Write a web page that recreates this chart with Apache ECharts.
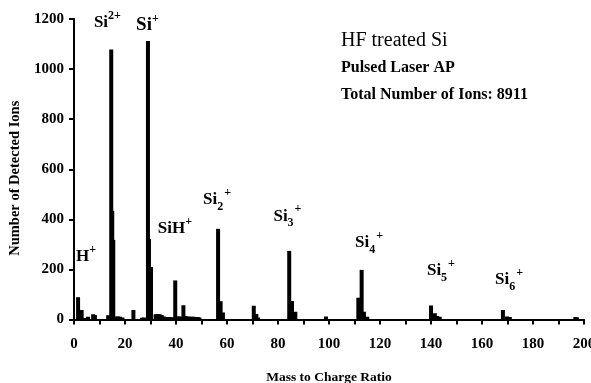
<!DOCTYPE html>
<html>
<head>
<meta charset="utf-8">
<script src="https://cdn.jsdelivr.net/npm/echarts@6/dist/echarts.min.js"></script>
<style>
  html, body { margin: 0; padding: 0; background: #fff; }
  #chart { width: 591px; height: 383px; }
</style>
</head>
<body>
<div id="chart"></div>
<script>
// histogram bins (mass position, number of ions)
const binMass = [
  1.6, 3.0, 4.3, 5.5, 7.5, 8.2,
  13.4, 14.6, 15.0, 15.4, 16.5, 17.3, 18.1, 19.0,
  23.3, 26.6, 27.4,
  29.0, 29.4, 30.2, 32.0, 32.8, 33.6, 34.4, 35.2, 36.0, 36.8, 37.6, 38.4,
  39.7, 40.5, 41.3, 42.1, 42.9, 43.7, 44.5, 45.3, 46.1, 46.9, 47.7, 48.5, 49.2,
  56.5, 57.5, 58.4,
  70.5, 71.5, 72.2,
  84.4, 85.5, 86.8,
  98.8,
  111.5, 112.8, 113.7, 115.0,
  140.0, 141.5, 142.4, 143.4,
  168.2, 169.8, 170.9,
  196.6, 197.2
]
const binCount = [
  89, 38, 6, 11, 21, 18,
  17, 1078, 434, 318, 12, 12, 11, 8,
  38, 7, 8,
  1112, 322, 210, 21, 22, 21, 18, 12, 10, 10, 10, 9,
  156, 12, 12, 11, 57, 14, 12, 11, 11, 11, 10, 10, 8,
  362, 73, 28,
  55, 22, 8,
  274, 74, 31,
  12,
  87, 198, 31, 11,
  56, 25, 14, 11,
  38, 12, 10,
  10, 9
]

// peak labels and where they sit (in data units)
const ionText = [
  '{b|H}{sup|+}',
  '{b|Si}{sup|2+}',
  '{big|Si}{sup|+}',
  '{b|SiH}{sup|+}',
  '{b|Si}{sub|2}{sup|+}',
  '{b|Si}{sub|3}{sup|+}',
  '{b|Si}{sub|4}{sup|+}',
  '{b|Si}{sub|5}{sup|+}',
  '{b|Si}{sub|6}{sup|+}'
]
const ionMass = [4.7, 13.1, 28.8, 39.6, 56.1, 83.7, 115.7, 143.9, 170.6]
const ionCount = [250, 1186, 1174, 362, 478, 412, 306, 194, 158]

const xTicks = [0, 200, 20]   // min, max, step
const yTicks = [0, 1200, 200]

const infoLines = ['HF treated Si', 'Pulsed Laser AP', 'Total Number of Ions: 8911']

const serif = '"Liberation Serif", "Times New Roman", serif'

var myChart = echarts.init(document.getElementById('chart'))

let bars = binMass.map((m, i) => [m, binCount[i]])
let labels = ionMass.map((m, i) => ({ value: [m, ionCount[i]], text: ionText[i] }))

let option = {
  animation: false,
  grid: { left: 74, right: 7, top: 19, bottom: 63.5, outerBoundsMode: 'none', containLabel: false },
  xAxis: {
    type: 'value',
    min: xTicks[0],
    max: xTicks[1],
    interval: xTicks[2],
    name: 'Mass to Charge Ratio',
    nameLocation: 'middle',
    nameGap: 51,
    nameTextStyle: { fontFamily: serif, fontWeight: 'bold', fontSize: 13.5, color: '#000' },
    axisLine: { lineStyle: { color: '#000', width: 2 } },
    axisTick: { length: 5, lineStyle: { color: '#000', width: 2 } },
    minorTick: { show: true, splitNumber: 2, length: 5, lineStyle: { color: '#000', width: 2 } },
    axisLabel: { margin: 17, fontFamily: serif, fontWeight: 'bold', fontSize: 15, color: '#000', hideOverlap: false },
    splitLine: { show: false }
  },
  yAxis: {
    type: 'value',
    min: yTicks[0],
    max: yTicks[1],
    interval: yTicks[2],
    name: 'Number of Detected Ions',
    nameLocation: 'middle',
    nameGap: 43,
    nameRotate: 90,
    nameTextStyle: { fontFamily: serif, fontWeight: 'bold', fontSize: 14.5, color: '#000', padding: [0, 18, 0, 0] },
    axisLine: { show: true, lineStyle: { color: '#000', width: 2 } },
    axisTick: { show: true, length: 5, lineStyle: { color: '#000', width: 2 } },
    axisLabel: { margin: 10, fontFamily: serif, fontWeight: 'bold', fontSize: 15, color: '#000', formatter: v => String(v) },
    splitLine: { show: false }
  },
  series: [
    {
      type: 'bar',
      data: bars,
      barWidth: 4,
      itemStyle: { color: '#000' }
    },
    {
      type: 'scatter',
      data: labels,
      symbolSize: 1,
      itemStyle: { color: 'rgba(0,0,0,0)', opacity: 1 },
      label: {
        show: true,
        position: 'inside',
        formatter: p => p.data.text,
        rich: {
          b: { fontFamily: serif, fontWeight: 'bold', fontSize: 17, color: '#000', lineHeight: 26, verticalAlign: 'middle' },
          big: { fontFamily: serif, fontWeight: 'bold', fontSize: 19, color: '#000', lineHeight: 26, verticalAlign: 'middle' },
          sup: { fontFamily: serif, fontWeight: 'bold', fontSize: 12, color: '#000', lineHeight: 26, verticalAlign: 'top' },
          sub: { fontFamily: serif, fontWeight: 'bold', fontSize: 12, color: '#000', lineHeight: 26, verticalAlign: 'bottom', padding: [0, 1, 0, 0] }
        }
      }
    }
  ],
  graphic: [
    { type: 'text', left: 341, top: 31, style: { text: infoLines[0], font: '20px ' + serif, fill: '#000' } },
    { type: 'text', left: 341, top: 60, style: { text: infoLines[1], font: 'bold 16px ' + serif, fill: '#000' } },
    { type: 'text', left: 341, top: 87, style: { text: infoLines[2], font: 'bold 16px ' + serif, fill: '#000' } }
  ]
}

myChart.setOption(option)
</script>
</body>
</html>
